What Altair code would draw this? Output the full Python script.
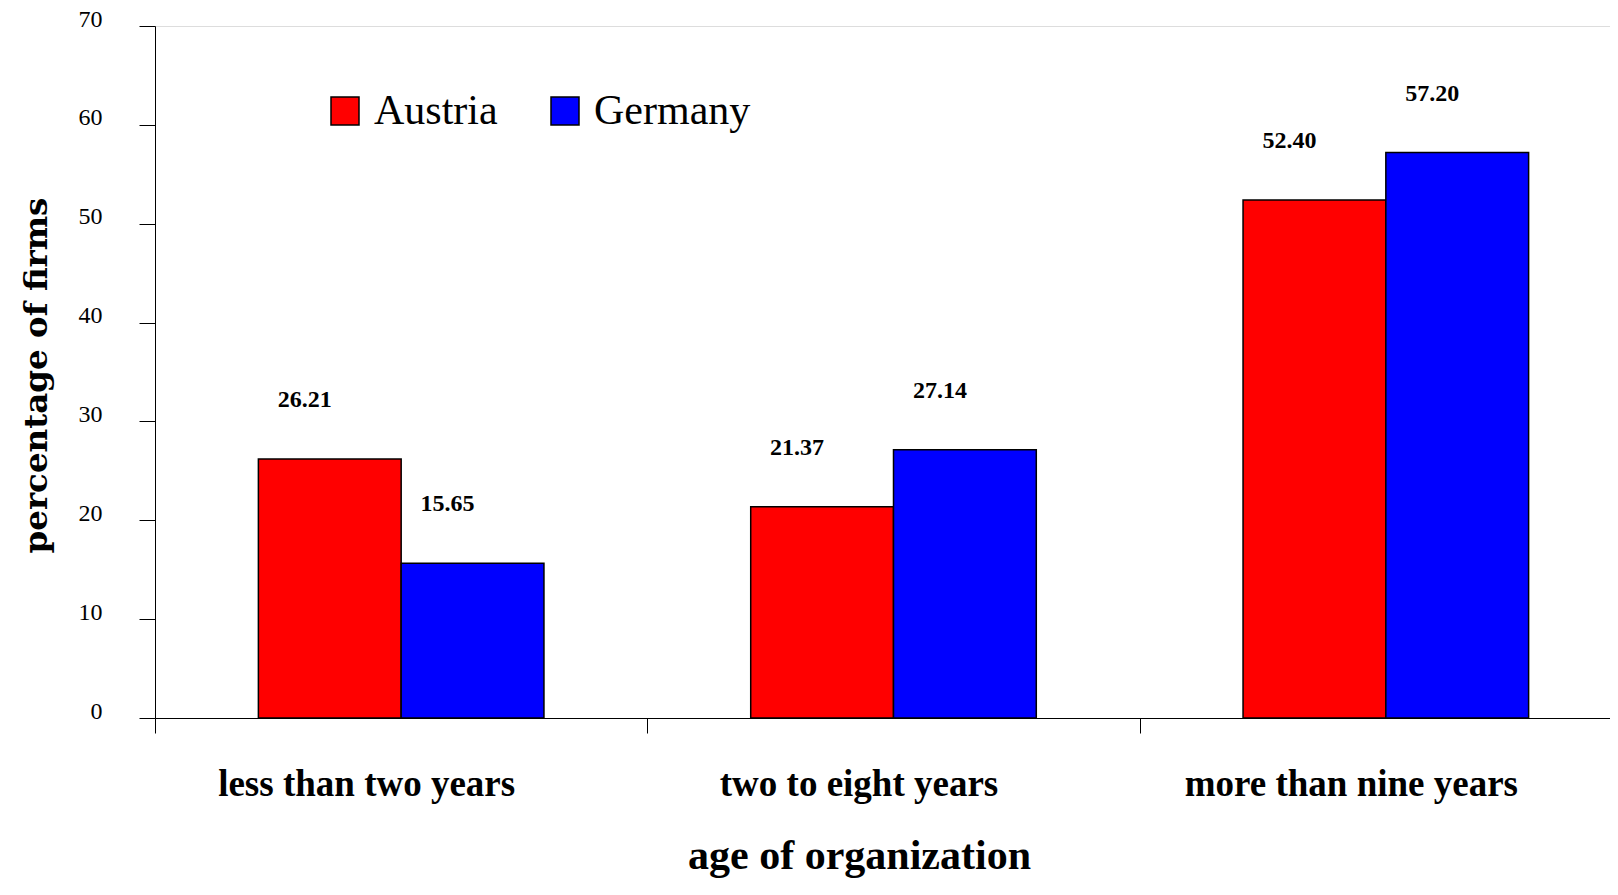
import altair as alt
import pandas as pd

categories = ["less than two years", "two to eight years", "more than nine years"]
countries = ["Austria", "Germany"]
austria = [26.21, 21.37, 52.40]
germany = [15.65, 27.14, 57.20]
y_ticks = [0, 10, 20, 30, 40, 50, 60, 70]

rows = []
for i, c in enumerate(categories):
    rows.append({"age": c, "country": "Austria", "value": austria[i]})
    rows.append({"age": c, "country": "Germany", "value": germany[i]})
df = pd.DataFrame(rows)

x_enc = alt.X(
    "age:N",
    sort=categories,
    scale=alt.Scale(paddingInner=0, paddingOuter=0, range=[0, 1477]),
    axis=alt.Axis(
        title="age of organization",
        titleFont="Liberation Serif", titleFontSize=42, titleFontWeight="bold",
        titleColor="black", titleX=704, titleY=150, titleBaseline="alphabetic",
        titleAlign="center", titleAnchor="start",
        labelFont="Liberation Serif", labelFontSize=37, labelFontWeight="bold",
        labelColor="black", labelAngle=0, labelBaseline="middle",
        labelPadding=51, labelOffset=-35, labelLimit=0,
        tickBand="extent", tickSize=15, tickColor="black", tickWidth=1,
        domainColor="black", domainWidth=1,
    ),
)
xoff = alt.XOffset("country:N", sort=countries,
                   scale=alt.Scale(paddingOuter=0.724, paddingInner=0))
y_enc = alt.Y(
    "value:Q",
    scale=alt.Scale(domain=[0, 70], nice=False, zero=True),
    axis=alt.Axis(
        values=y_ticks, grid=False,
        title="percentage of firms",
        titleFont="DejaVu Serif", titleFontSize=32.5, titleFontWeight="bold",
        titleColor="black", titleAngle=270, titleX=-119, titleY=349,
        titleBaseline="middle", titleAlign="center", titleAnchor="start",
        labelFont="Liberation Serif", labelFontSize=24, labelColor="black",
        labelBaseline="alphabetic", labelPadding=37,
        tickSize=16, tickColor="black", tickWidth=1,
        domainColor="black", domainWidth=1,
    ),
)

bars = alt.Chart(df).mark_bar(stroke="black", strokeWidth=1.5).encode(
    x=x_enc,
    xOffset=xoff,
    y=y_enc,
    color=alt.Color(
        "country:N",
        sort=countries,
        scale=alt.Scale(domain=countries, range=["#ff0000", "#0000ff"]),
        title=None,
        legend=alt.Legend(
            orient="none", legendX=169, legendY=64, direction="horizontal",
            symbolType="square", symbolSize=784, symbolStrokeColor="black",
            symbolStrokeWidth=1.5, labelFont="Liberation Serif", labelFontSize=42,
            labelColor="black", labelOffset=8, columnPadding=46, padding=0,
            labelLimit=400,
        ),
    ),
)

labels = alt.Chart(df).mark_text(
    font="Liberation Serif", fontSize=24, fontWeight="bold", color="black",
    dx=-25, dy=-59, baseline="middle", align="center",
).encode(
    x=alt.X("age:N", sort=categories),
    xOffset=alt.XOffset("country:N", sort=countries),
    y=alt.Y("value:Q"),
    text=alt.Text("value:Q", format=".2f"),
)

chart = alt.layer(bars, labels).properties(
    width=1455, height=692,
    autosize=alt.AutoSizeParams(type="none"),
    padding={"left": 147, "top": 18, "right": 0, "bottom": 160},
).configure_view(stroke=None).configure(background="white")

chart.save("out.html", embed_options={"renderer": "svg", "actions": False})
